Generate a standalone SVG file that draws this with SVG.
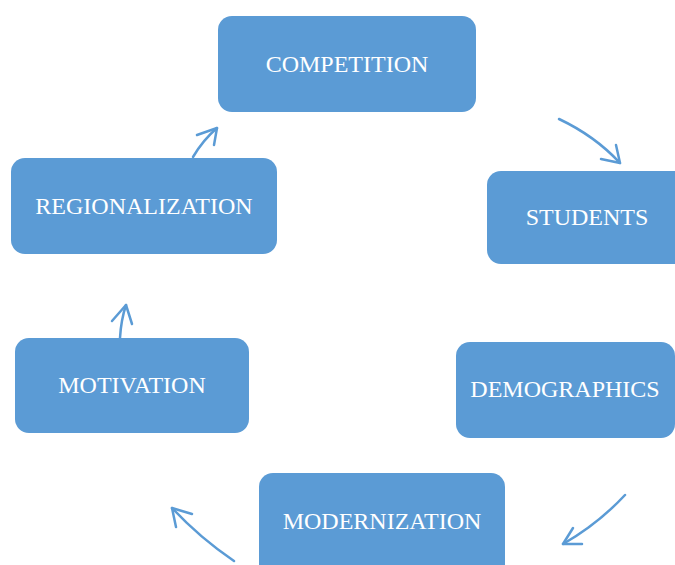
<svg xmlns="http://www.w3.org/2000/svg" width="675" height="565" viewBox="0 0 675 565">
<style>
.box{fill:#5B9BD5;}
.lbl{fill:#ffffff;font-family:"Liberation Serif","Times New Roman",serif;font-size:24px;text-anchor:middle;}
.arr{fill:none;stroke:#5B9BD5;stroke-width:2.5;stroke-linecap:round;stroke-linejoin:round;}
</style>
<rect width="675" height="565" fill="#ffffff"/>
<g id="competition"><rect class="box" x="218" y="16" width="258" height="96" rx="14"/><text class="lbl" x="347" y="72">COMPETITION</text></g>
<g id="students"><rect class="box" x="487" y="171" width="210" height="93" rx="14"/><text class="lbl" x="587" y="225">STUDENTS</text></g>
<g id="demographics"><rect class="box" x="456" y="342" width="219" height="96" rx="14"/><text class="lbl" x="565" y="397">DEMOGRAPHICS</text></g>
<g id="modernization"><rect class="box" x="259" y="473" width="246" height="110" rx="14"/><text class="lbl" x="382" y="529">MODERNIZATION</text></g>
<g id="motivation"><rect class="box" x="15" y="338" width="234" height="95" rx="14"/><text class="lbl" x="132" y="393">MOTIVATION</text></g>
<g id="regionalization"><rect class="box" x="11" y="158" width="266" height="96" rx="14"/><text class="lbl" x="144" y="214">REGIONALIZATION</text></g>
<g id="connectors">
<path class="arr" d="M559,119 Q595,136 620,163"/><path class="arr" d="M601,159 L620,163 L616,145"/>
<path class="arr" d="M625,495 Q598,524 563,544"/><path class="arr" d="M582,544 L563,544 L573,528"/>
<path class="arr" d="M234,561 Q200,538 172,508"/><path class="arr" d="M192,514 L172,508 L176,527"/>
<path class="arr" d="M120,338 Q121,320 126,305"/><path class="arr" d="M112,321 L126,305 L132,324"/>
<path class="arr" d="M193,157 Q203,140 217,128"/><path class="arr" d="M197,135 L217,128 L214,145"/>
</g>
</svg>
